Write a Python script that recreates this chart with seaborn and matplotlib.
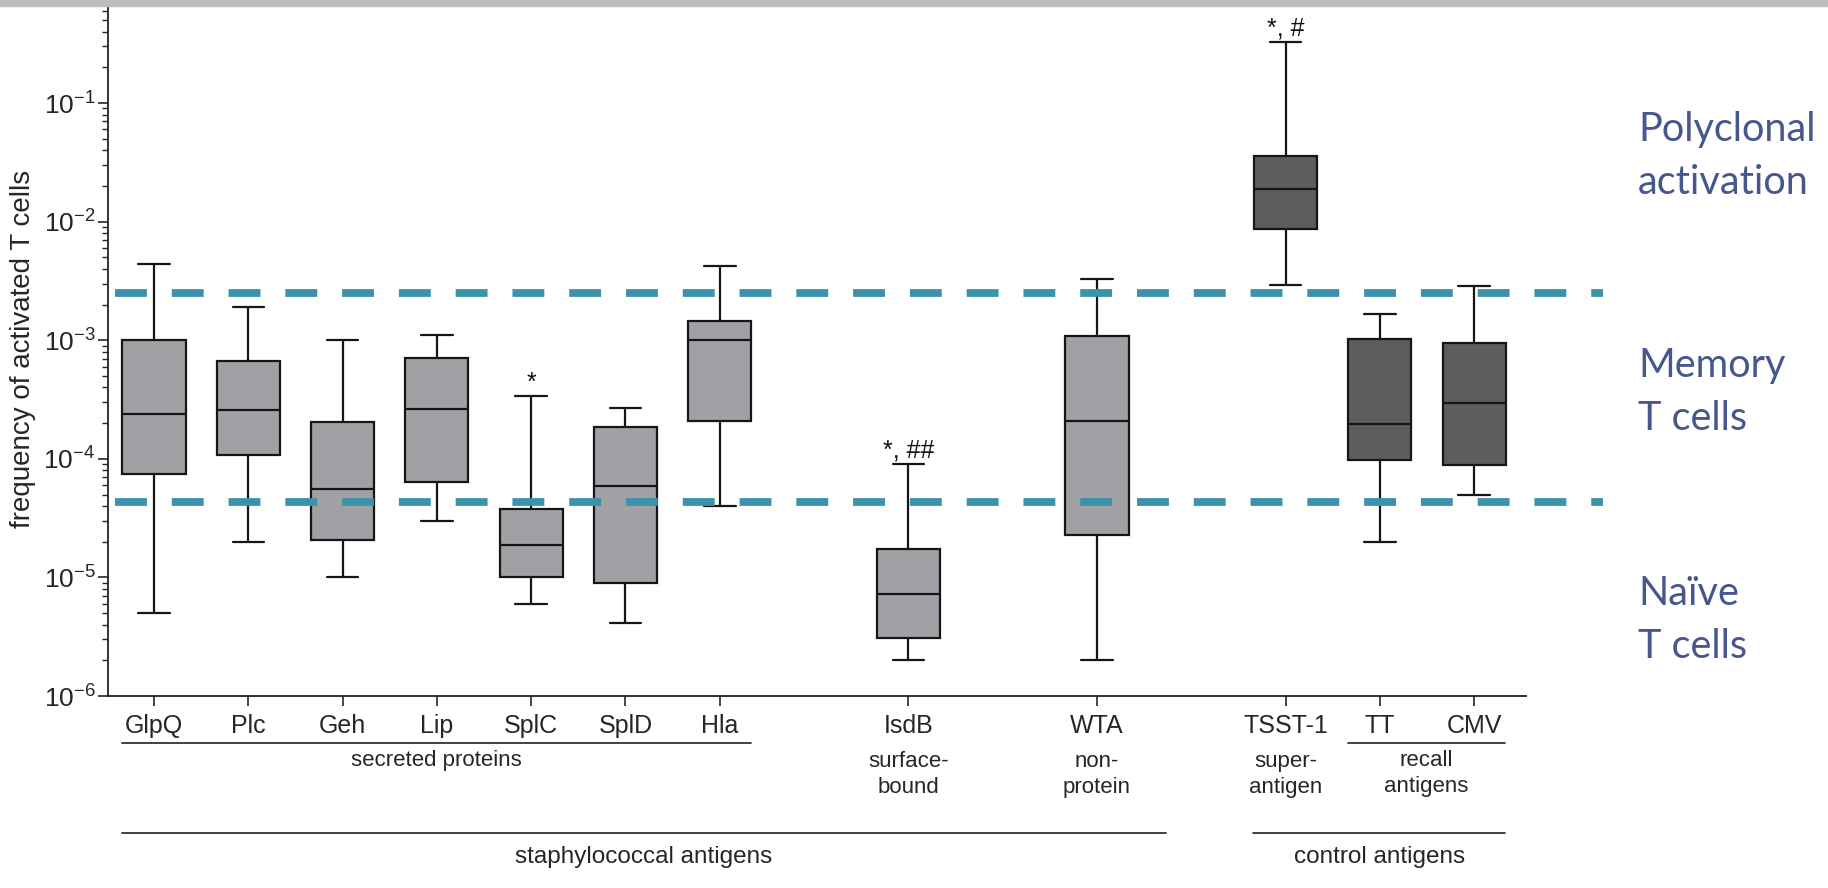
import numpy as np
import pandas as pd
import matplotlib
matplotlib.use("Agg")
import matplotlib.pyplot as plt
import seaborn as sns
from matplotlib.transforms import blended_transform_factory
from matplotlib.lines import Line2D
from matplotlib.patches import Rectangle

# ---------------- data ----------------
antigens = ["GlpQ", "Plc", "Geh", "Lip", "SplC", "SplD", "Hla",
            "IsdB", "WTA", "TSST-1", "TT", "CMV"]
kind = ["staph"] * 9 + ["control"] * 3
whisker_low = [5.0e-6, 2.0e-5, 1.0e-5, 3.0e-5, 6.0e-6, 4.1e-6, 4.0e-5,
               2.0e-6, 2.0e-6, 2.9e-3, 2.0e-5, 4.95e-5]
q1 = [7.5e-5, 1.07e-4, 2.07e-5, 6.4e-5, 1.0e-5, 9.0e-6, 2.08e-4,
      3.1e-6, 2.28e-5, 8.7e-3, 9.7e-5, 8.9e-5]
median = [2.37e-4, 2.6e-4, 5.6e-5, 2.65e-4, 1.88e-5, 5.9e-5, 1.0e-3,
          7.2e-6, 2.07e-4, 1.87e-2, 1.98e-4, 2.95e-4]
q3 = [1.0e-3, 6.7e-4, 2.04e-4, 7.1e-4, 3.76e-5, 1.87e-4, 1.45e-3,
      1.73e-5, 1.08e-3, 3.6e-2, 1.03e-3, 9.5e-4]
whisker_high = [4.4e-3, 1.9e-3, 1.0e-3, 1.1e-3, 3.4e-4, 2.7e-4, 4.23e-3,
                9.0e-5, 3.26e-3, 3.25e-1, 1.67e-3, 2.86e-3]
significance = {"SplC": "*", "IsdB": "*, ##", "TSST-1": "*, #"}
memory_threshold = 2.48e-3
naive_threshold = 4.35e-5

subgroups = [("secreted proteins", "GlpQ", "Hla"),
             ("surface-\nbound", "IsdB", None),
             ("non-\nprotein", "WTA", None),
             ("super-\nantigen", "TSST-1", None),
             ("recall\nantigens", "TT", "CMV")]
supergroups = [("staphylococcal antigens", "GlpQ", "WTA"),
               ("control antigens", "TSST-1", "CMV")]
region_labels = ["Polyclonal\nactivation", "Memory\nT cells", "Naïve\nT cells"]

# ---------------- layout ----------------
x_pos = [0, 1, 2, 3, 4, 5, 6, 8, 10, 12, 13, 14]
pos_of = dict(zip(antigens, x_pos))

rows = []
for i, a in enumerate(antigens):
    for v in (whisker_low[i], q1[i], median[i], q3[i], whisker_high[i]):
        rows.append({"antigen": a, "pos": x_pos[i], "kind": kind[i], "value": v})
df = pd.DataFrame(rows)

sns.set_style("ticks")
plt.rcParams["font.family"] = ["Liberation Sans", "DejaVu Sans"]
plt.rcParams["mathtext.fontset"] = "custom"
plt.rcParams["mathtext.rm"] = "Liberation Sans"
plt.rcParams["mathtext.default"] = "regular"

W, H = 1828, 888
fig = plt.figure(figsize=(W / 100, H / 100), dpi=100)
fig.patch.set_facecolor("white")
ax = fig.add_axes([108 / W, (H - 696) / H, 1418 / W, 693.2 / H])

sns.boxplot(data=df, x="pos", y="value", hue="kind",
            palette={"staph": "#a1a1a5", "control": "#5d5d5d"},
            native_scale=True, log_scale=(False, True), dodge=False,
            legend=False, width=0.67, whis=np.inf, fliersize=0,
            linecolor="#161616", linewidth=1.6, saturation=1, ax=ax)

ax.set_yscale("log")
ax.set_xlim(-0.488, 14.55)
ax.set_ylim(1e-6, 0.7)
ax.set_xticks(x_pos)
ax.set_xticklabels(antigens, fontsize=18)
ax.set_yticks([1e-6, 1e-5, 1e-4, 1e-3, 1e-2, 1e-1])
ax.tick_params(axis="y", which="major", labelsize=19, length=7, width=1.2, pad=2)
ax.tick_params(axis="y", which="minor", length=4.5, width=1.0)
ax.tick_params(axis="x", which="major", length=7, width=1.2, pad=6)
ax.tick_params(axis="x", which="minor", length=0)
for s in ("top", "right"):
    ax.spines[s].set_visible(False)
for s in ("left", "bottom"):
    ax.spines[s].set_linewidth(1.3)
    ax.spines[s].set_color("#222222")
ax.set_xlabel("")
ax.set_ylabel("frequency of activated T cells", fontsize=20)
ax.yaxis.set_label_coords(-0.051, 0.5)
ax.set_facecolor("white")

# threshold lines (extend beyond the axes)
for thr in (memory_threshold, naive_threshold):
    ax.plot([-0.41, 15.37], [thr, thr], color="#3b93a9", lw=5.6,
            linestyle=(0, (4.1, 3.2)), solid_capstyle="butt",
            dash_capstyle="butt", clip_on=False, zorder=10)

# significance marks
for a, txt in significance.items():
    i = antigens.index(a)
    ax.annotate(txt, xy=(pos_of[a], whisker_high[i]), xytext=(0, 1),
                textcoords="offset points", ha="center", va="bottom",
                fontsize=18, color="#111111")

# group annotations below axis
tr = blended_transform_factory(ax.transData, fig.transFigure)
def fy(px):
    return 1 - px / H

for label, a0, a1 in subgroups:
    if a1 is None:
        xc = pos_of[a0]
        fig.text(xc, fy(751), label, transform=tr, ha="center", va="top",
                 fontsize=16, linespacing=1.32)
    else:
        x0, x1 = pos_of[a0] - 0.34, pos_of[a1] + 0.33
        fig.add_artist(Line2D([x0, x1], [fy(743), fy(743)], transform=tr,
                              color="#333333", lw=1.3))
        fig.text((x0 + x1) / 2, fy(750), label, transform=tr, ha="center",
                 va="top", fontsize=16, linespacing=1.32)

for label, a0, a1 in supergroups:
    x0, x1 = pos_of[a0] - 0.34, pos_of[a1] + 0.33 + (0.4 if a1 == "WTA" else 0)
    fig.add_artist(Line2D([x0, x1], [fy(833), fy(833)], transform=tr,
                          color="#333333", lw=1.3))
    fig.text((x0 + x1) / 2, fy(846), label, transform=tr, ha="center",
             va="top", fontsize=17.5)

# right-side region labels
for label, yc in zip(region_labels, (156, 392, 620)):
    fig.text(1638 / W, fy(yc), label, ha="left", va="center",
             fontsize=28.5, color="#45578e", family=["Lato", "DejaVu Sans"],
             linespacing=1.55)

# top gray band
fig.add_artist(Rectangle((0, 1 - 6 / H), 1, 6 / H, transform=fig.transFigure,
                         color="#bebebe", zorder=20))

fig.savefig("out.png", dpi=100)
